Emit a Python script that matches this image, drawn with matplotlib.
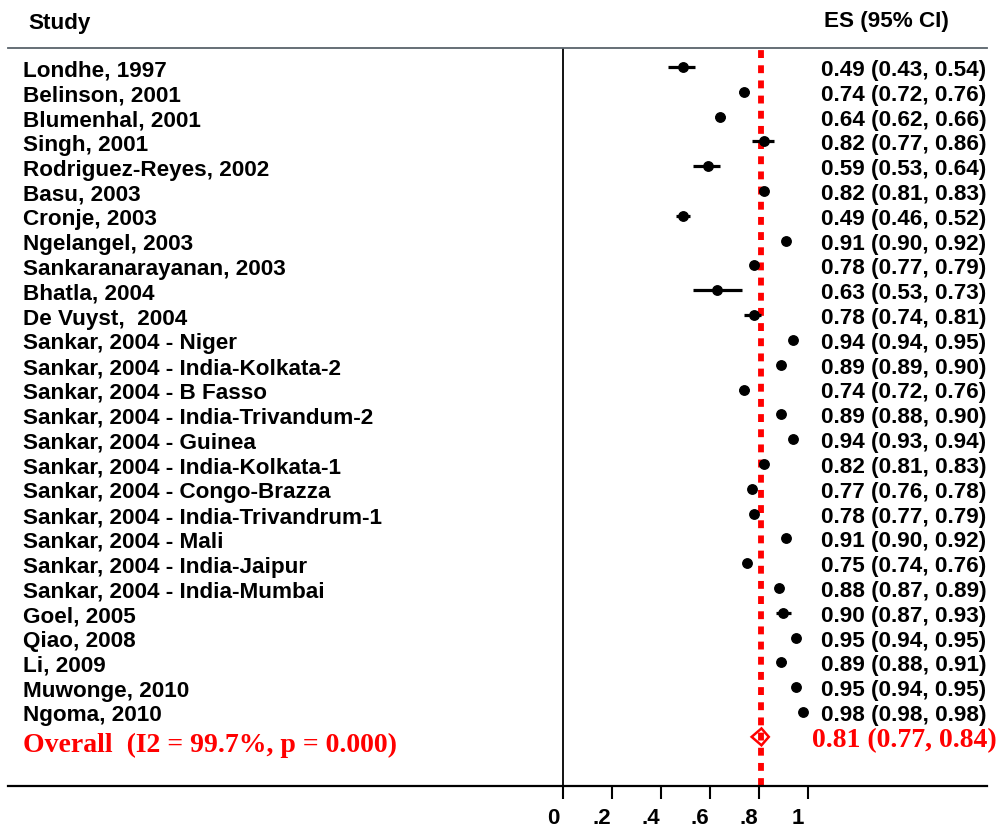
import matplotlib
matplotlib.use("Agg")
import matplotlib.pyplot as plt
from matplotlib.transforms import ScaledTranslation
from matplotlib.patches import Polygon

studies = ["Londhe, 1997", "Belinson, 2001", "Blumenhal, 2001", "Singh, 2001",
           "Rodriguez-Reyes, 2002", "Basu, 2003", "Cronje, 2003", "Ngelangel, 2003",
           "Sankaranarayanan, 2003", "Bhatla, 2004", "De Vuyst,  2004",
           "Sankar, 2004 - Niger", "Sankar, 2004 - India-Kolkata-2", "Sankar, 2004 - B Fasso",
           "Sankar, 2004 - India-Trivandum-2", "Sankar, 2004 - Guinea",
           "Sankar, 2004 - India-Kolkata-1", "Sankar, 2004 - Congo-Brazza",
           "Sankar, 2004 - India-Trivandrum-1", "Sankar, 2004 - Mali",
           "Sankar, 2004 - India-Jaipur", "Sankar, 2004 - India-Mumbai",
           "Goel, 2005", "Qiao, 2008", "Li, 2009", "Muwonge, 2010", "Ngoma, 2010"]
es = [0.49, 0.74, 0.64, 0.82, 0.59, 0.82, 0.49, 0.91, 0.78, 0.63, 0.78, 0.94, 0.89, 0.74,
      0.89, 0.94, 0.82, 0.77, 0.78, 0.91, 0.75, 0.88, 0.90, 0.95, 0.89, 0.95, 0.98]
lo = [0.43, 0.72, 0.62, 0.77, 0.53, 0.81, 0.46, 0.90, 0.77, 0.53, 0.74, 0.94, 0.89, 0.72,
      0.88, 0.93, 0.81, 0.76, 0.77, 0.90, 0.74, 0.87, 0.87, 0.94, 0.88, 0.94, 0.98]
hi = [0.54, 0.76, 0.66, 0.86, 0.64, 0.83, 0.52, 0.92, 0.79, 0.73, 0.81, 0.95, 0.90, 0.76,
      0.90, 0.94, 0.83, 0.78, 0.79, 0.92, 0.76, 0.89, 0.93, 0.95, 0.91, 0.95, 0.98]
overall_es, overall_lo, overall_hi = 0.81, 0.77, 0.84
overall_label = "Overall  (I2 = 99.7%, p = 0.000)"
xticks = [0, 0.2, 0.4, 0.6, 0.8, 1.0]
xticklabels = ["0", ".2", ".4", ".6", ".8", "1"]

W, H = 1002, 831
fig = plt.figure(figsize=(W / 100, H / 100), dpi=100)
# pixel layout
px_left, px_right, px_top, px_bot = 8, 987, 48, 786
px_zero, px_per_unit = 563, 245.0
row_top_px, row_step = 67, 24.81

ax = fig.add_axes([px_left / W, 1 - px_bot / H, (px_right - px_left) / W, (px_bot - px_top) / H])
ax.set_xlim((px_left - px_zero) / px_per_unit, (px_right - px_zero) / px_per_unit)
def prow(p):
    return 1 + (p - row_top_px) / row_step
ax.set_ylim(prow(px_bot), prow(px_top))

def xd(p):
    return (p - px_zero) / px_per_unit

for s in ["left", "right"]:
    ax.spines[s].set_visible(False)
ax.spines["top"].set_color("#59636b")
ax.spines["top"].set_linewidth(1.3)
ax.spines["bottom"].set_color("black")
ax.spines["bottom"].set_linewidth(1.6)
ax.set_yticks([])
ax.set_xticks(xticks)
ax.set_xticklabels(xticklabels, fontfamily="Liberation Sans", fontweight="bold", fontsize=16)
ax.tick_params(axis="x", direction="out", length=9.5, width=1.5, pad=6)
for lab in ax.get_xticklabels():
    lab.set_transform(lab.get_transform() + ScaledTranslation(-10 / 100, 0, fig.dpi_scale_trans))

ax.axvline(0, color="black", lw=1.3, zorder=1)

rows = list(range(1, len(studies) + 1))
fs = 16.2
sans = dict(fontfamily="Liberation Sans", fontweight="bold", fontsize=fs, color="black")
for r, name, e, l, h in zip(rows, studies, es, lo, hi):
    ax.plot([l, h], [r, r], color="black", lw=2.3, solid_capstyle="butt", zorder=3)
    ax.plot([e], [r], marker="o", ms=6.8, color="black", zorder=4)
    ax.text(xd(23), r + 0.38, name, ha="left", va="baseline", **sans)
    ax.text(xd(821), r + 0.36, f"{e:.2f} ({l:.2f}, {h:.2f})", ha="left", va="baseline", **sans)

orow = len(studies) + 1
ax.axvline(overall_es, color="red", lw=4.2, dashes=(1.35, 1.25), zorder=2)
dh = 0.34
diamond = Polygon([[overall_lo, orow], [overall_es, orow - dh], [overall_hi, orow],
                   [overall_es, orow + dh]], closed=True, fill=False, edgecolor="red",
                  lw=1.8, zorder=5)
ax.add_patch(diamond)
serif = dict(fontfamily="Liberation Serif", fontweight="bold", fontsize=20, color="red")
ax.text(xd(23), orow + 0.61, overall_label, ha="left", va="baseline", **serif)
ax.text(xd(812), orow + 0.41, f"{overall_es:.2f} ({overall_lo:.2f}, {overall_hi:.2f})",
        ha="left", va="baseline", **serif)

ax.text(xd(28), prow(29.5), "Study", ha="left", va="baseline", **sans)
ax.text(xd(824), prow(27.5), "ES (95% CI)", ha="left", va="baseline", **sans)

fig.savefig("out.png", dpi=100)
